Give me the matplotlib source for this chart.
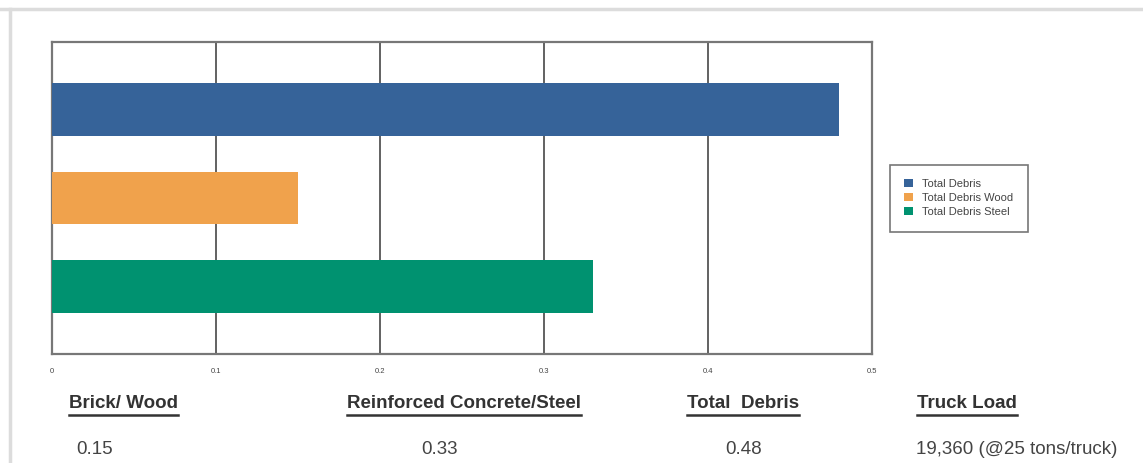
import matplotlib.pyplot as plt
from matplotlib.patches import Patch

plt.rcParams['font.family'] = ['Liberation Sans', 'DejaVu Sans']

# Debris quantities (bars, top to bottom)
series = ['Total Debris', 'Total Debris Wood', 'Total Debris Steel']
values = [0.48, 0.15, 0.33]
colors = ['#366399', '#f0a24c', '#009270']
xticks = [0, 0.1, 0.2, 0.3, 0.4, 0.5]
xtick_labels = ['0', '0.1', '0.2', '0.3', '0.4', '0.5']

# Summary table below the chart
headers = ['Brick/ Wood', 'Reinforced Concrete/Steel', 'Total  Debris', 'Truck Load']
summary = ['0.15', '0.33', '0.48', '19,360 (@25 tons/truck)']
header_x = [69, 347, 687, 917]
summary_x = [76, 421, 725, 916]

W, H = 1143, 463
fig = plt.figure(figsize=(W / 100, H / 100), dpi=100)
fig.patch.set_facecolor('white')

# light frame along top and left edges
fig.add_artist(plt.Line2D([0, 1], [1 - 8.5 / H] * 2, color='#dcdcdc', lw=2.5,
                          transform=fig.transFigure))
fig.add_artist(plt.Line2D([9.5 / W] * 2, [0, 1 - 8.5 / H], color='#dcdcdc', lw=2.5,
                          transform=fig.transFigure))

ax = fig.add_axes([52 / W, 1 - 354 / H, 820 / W, 312 / H])
ypos = [2, 1, 0]
ax.barh(ypos, values, height=0.6, color=colors, zorder=3)
ax.set_xlim(0, 0.5)
ax.set_ylim(-0.77, 2.77)
ax.set_yticks([])
ax.set_xticks(xticks)
ax.set_xticklabels(xtick_labels, fontsize=5.5, color='#444444')
ax.tick_params(axis='x', length=0, pad=10)
ax.grid(axis='x', color='#555555', lw=1.3, zorder=1)
for s in ax.spines.values():
    s.set_color('#777777')
    s.set_linewidth(1.6)

handles = [Patch(facecolor=c, label=s) for c, s in zip(colors, series)]
leg = fig.legend(handles=handles, loc='center left',
                 bbox_to_anchor=(890 / W, 1 - 198 / H), fontsize=8,
                 frameon=True, fancybox=False, handlelength=0.8, handleheight=0.8,
                 handletextpad=0.8, labelspacing=0.35, borderpad=1.3,
                 borderaxespad=0)
leg.get_frame().set_edgecolor('#555555')
leg.get_frame().set_linewidth(1.2)
for t in leg.get_texts():
    t.set_color('#444444')

fig.canvas.draw()
renderer = fig.canvas.get_renderer()
for x, h in zip(header_x, headers):
    t = fig.text(x / W, 1 - 403 / H, h, fontsize=13.5, fontweight='bold',
                 color='#333333', ha='left', va='center')
    bb = t.get_window_extent(renderer)
    fig.add_artist(plt.Line2D([bb.x0 / W, bb.x1 / W], [1 - 415 / H] * 2,
                              color='#333333', lw=1.8, transform=fig.transFigure))
for x, s in zip(summary_x, summary):
    fig.text(x / W, 1 - 450 / H, s, fontsize=13.5, color='#444444',
             ha='left', va='center')

fig.savefig('out.png', dpi=100)
